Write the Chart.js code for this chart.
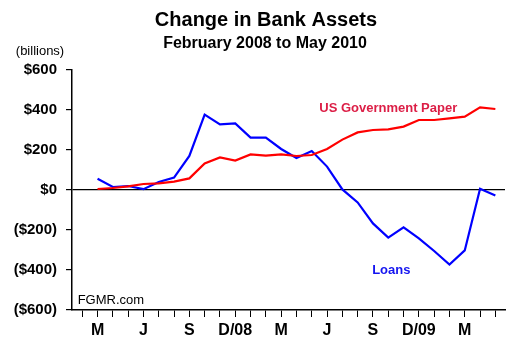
<!DOCTYPE html>
<html>
<head>
<meta charset="utf-8">
<script src="https://cdn.jsdelivr.net/npm/chart.js@4"></script>
<style>
  html, body { margin: 0; padding: 0; background: #fff; }
  #wrap { width: 527px; height: 347px; }
</style>
</head>
<body>
<div id="wrap"><canvas id="chart" width="527" height="347"></canvas></div>
<script>
// months Feb 2008 .. May 2010, index 0 = Feb 2008
const months = [
  "Feb08", "Mar08", "Apr08", "May08", "Jun08", "Jul08", "Aug08", "Sep08", "Oct08", "Nov08", "Dec08",
  "Jan09", "Feb09", "Mar09", "Apr09", "May09", "Jun09", "Jul09", "Aug09", "Sep09", "Oct09", "Nov09", "Dec09",
  "Jan10", "Feb10", "Mar10", "Apr10", "May10"
];
// short labels shown under the axis (blank = tick only)
const tickLabels = [
  "", "M", "", "", "J", "", "", "S", "", "", "D/08",
  "", "", "M", "", "", "J", "", "", "S", "", "", "D/09",
  "", "", "M", "", ""
];
// billions, first value is Mar 2008
const govPaper = [null, 5, 10, 18, 30, 33, 42, 58, 133, 163, 147, 178, 172, 178, 170, 175, 205, 252, 288, 300, 303, 317, 350, 350, 358, 367, 413, 405];
const loans = [null, 56, 15, 20, 4, 40, 62, 170, 377, 328, 333, 262, 262, 205, 160, 195, 117, 3, -62, -167, -238, -187, -242, -305, -373, -302, 6, -28];
const yTicks = [-600, -400, -200, 0, 200, 400, 600];

function money(v) {
  if (v < 0) return "($" + Math.abs(v) + ")";
  return "$" + v;
}

function toPoints(arr) {
  return arr.map((v, i) => ({ x: i, y: v }));
}

const FONT = "'Liberation Sans', Arial, sans-serif";

const textPlugin = {
  id: "texts",
  afterDraw(chart) {
    const c = chart.ctx;
    const xs = chart.scales.x, ys = chart.scales.y;
    c.save();
    c.fillStyle = "#000";
    c.textAlign = "center";
    c.textBaseline = "middle";
    c.font = "bold 20px " + FONT;
    c.fillText("Change in Bank Assets", 266, 20);
    c.font = "bold 16px " + FONT;
    c.fillText("February 2008 to May 2010", 265, 44);
    c.font = "13px " + FONT;
    c.fillText("(billions)", 40, 51);

    // series labels
    c.font = "bold 13px " + FONT;
    c.fillStyle = "#dc1e46";
    c.fillText("US Government Paper", xs.getPixelForValue(20), ys.getPixelForValue(410));
    c.fillStyle = "#1414f0";
    c.fillText("Loans", xs.getPixelForValue(20.2), ys.getPixelForValue(-400));

    c.fillStyle = "#000";
    c.textAlign = "left";
    c.font = "13px " + FONT;
    c.fillText("FGMR.com", xs.getPixelForValue(-0.3), ys.getPixelForValue(-552));
    c.restore();
  }
};

const ctx = document.getElementById("chart").getContext("2d");
const chart = new Chart(ctx, {
  type: "line",
  data: {
    datasets: [
      {
        label: "US Government Paper",
        data: toPoints(govPaper),
        borderColor: "#ff0000",
        borderWidth: 2.2,
        pointRadius: 0,
        tension: 0
      },
      {
        label: "Loans",
        data: toPoints(loans),
        borderColor: "#0000ff",
        borderWidth: 2.2,
        pointRadius: 0,
        tension: 0
      }
    ]
  },
  options: {
    responsive: false,
    animation: false,
    layout: { padding: { top: 70, right: 22, left: 0, bottom: 0 } },
    plugins: {
      legend: { display: false },
      title: { display: false },
      tooltip: { enabled: false }
    },
    scales: {
      x: {
        type: "linear",
        min: -0.67,
        max: 27.63,
        afterBuildTicks(scale) {
          scale.ticks = months.map((m, i) => ({ value: i }));
        },
        afterFit(scale) { scale.height = 37; },
        border: { display: true, color: "#000", width: 1.5 },
        grid: {
          drawOnChartArea: false,
          drawTicks: true,
          tickLength: 7,
          tickColor: "#000",
          lineWidth: 1
        },
        ticks: {
          autoSkip: false,
          maxRotation: 0,
          padding: 4,
          color: "#000",
          font: { family: FONT, size: 16, weight: "bold" },
          callback: (v) => tickLabels[v] || ""
        }
      },
      y: {
        min: -600,
        max: 600,
        afterBuildTicks(scale) {
          scale.ticks = yTicks.map(v => ({ value: v }));
        },
        afterFit(scale) { scale.width = 72; },
        border: { display: true, color: "#000", width: 1.5 },
        grid: {
          color: (c) => (c.tick && c.tick.value === 0 ? "#000" : "rgba(0,0,0,0)"),
          tickColor: "#000",
          lineWidth: 1.2,
          tickLength: 6
        },
        ticks: {
          padding: 9,
          color: "#000",
          font: { family: FONT, size: 15, weight: "bold" },
          callback: (v) => money(v)
        }
      }
    }
  },
  plugins: [textPlugin]
});
</script>
</body>
</html>
